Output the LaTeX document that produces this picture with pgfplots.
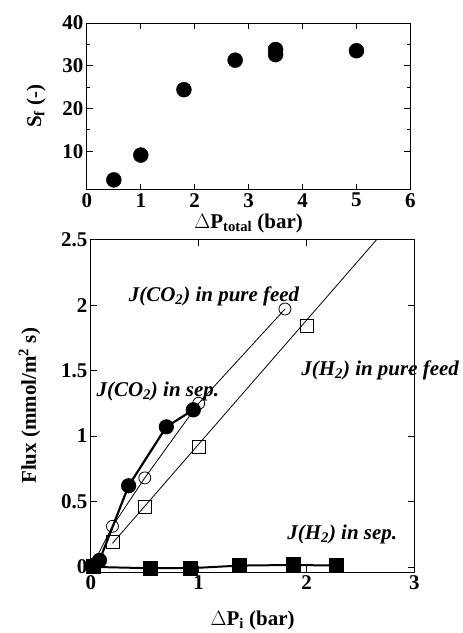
\documentclass[border=0pt]{standalone}
\usepackage{fontspec}
\setmainfont{Liberation Serif}
\usepackage{pgfplots}
\pgfplotsset{compat=1.18}

\pgfplotsset{
  figstyle/.style={
    scale only axis,
    clip=false,
    axis line style={line width=0.8pt},
    tick align=inside,
    major tick length=6pt,
    minor tick length=3pt,
    every tick/.style={black, line width=0.8pt},
    ticklabel style={font=\bfseries\fontsize{21}{21}\selectfont},
    /pgf/number format/assume math mode=true,
    label style={font=\bfseries\fontsize{21}{23}\selectfont},
  },
}

\begin{document}
\begin{tikzpicture}
\path (0pt,0pt) rectangle (462pt,633pt);

% top: selectivity vs total pressure difference
\begin{axis}[figstyle,
  at={(87pt,443pt)}, anchor=south west,
  width=324pt, height=167pt,
  xmin=0, xmax=6, ymin=1, ymax=40,
  xtick={0,1,...,6}, ytick={10,20,30,40},
  minor y tick num=1,
  xlabel={$\Delta$P\textsubscript{total} (bar)},
  ylabel={S\textsubscript{f} (-)},
  xlabel style={yshift=0pt},
  ylabel style={yshift=10pt},
]
\addplot[only marks, mark=*, mark size=7.5pt, black] coordinates {
  (0.5,3.3) (1.0,9.1) (1.8,24.4) (2.75,31.3) (3.5,33.8) (3.5,32.6) (5.0,33.5)
};
\end{axis}

% bottom: flux vs partial pressure difference
\begin{axis}[figstyle,
  at={(91pt,60pt)}, anchor=south west,
  width=324pt, height=333pt,
  xmin=0, xmax=3, ymin=-0.04, ymax=2.5,
  xtick={0,1,2,3}, ytick={0,0.5,1,1.5,2,2.5},
  xlabel={$\Delta$P\textsubscript{i} (bar)},
  ylabel={Flux (mmol/m\textsuperscript{2} s)},
  xlabel style={yshift=-14pt},
  ylabel style={yshift=14pt},
]
% J(CO2) pure feed
\addplot[black, line width=0.8pt, mark=o, mark size=6pt,
  mark options={fill=white}] coordinates {
  (0.02,0.02) (0.2,0.31) (0.5,0.68) (1.0,1.25) (1.8,1.97)
};
% J(H2) pure feed: line
\addplot[black, line width=0.8pt] coordinates {(0.2,0.18) (2.65,2.5)};
\addplot[only marks, black, mark=square, mark size=6.5pt, mark options={line width=0.8pt}] coordinates {
  (0.2,0.19) (0.5,0.46) (1.0,0.92) (2.0,1.84)
};
% J(CO2) in separation
\addplot[black, line width=2.2pt, mark=*, mark size=6.5pt] coordinates {
  (0.03,0.01) (0.08,0.05) (0.35,0.62) (0.7,1.07) (0.95,1.2)
};
% J(H2) in separation
\addplot[black, line width=2pt, mark=square*, mark size=6.5pt] coordinates {
  (0.02,0.0) (0.55,-0.01) (0.92,-0.01) (1.38,0.01) (1.88,0.015) (2.28,0.01)
};
\node[anchor=west, font=\bfseries\itshape\fontsize{21}{21}\selectfont] at (axis cs:0.32,2.07) {J(CO\textsubscript{2}) in pure feed};
\node[anchor=west, font=\bfseries\itshape\fontsize{21}{21}\selectfont] at (axis cs:0.02,1.34) {J(CO\textsubscript{2}) in sep.};
\node[anchor=west, font=\bfseries\itshape\fontsize{21}{21}\selectfont] at (axis cs:1.92,1.50) {J(H\textsubscript{2}) in pure feed};
\node[anchor=west, font=\bfseries\itshape\fontsize{21}{21}\selectfont] at (axis cs:1.79,0.25) {J(H\textsubscript{2}) in sep.};
\end{axis}
\end{tikzpicture}
\end{document}
